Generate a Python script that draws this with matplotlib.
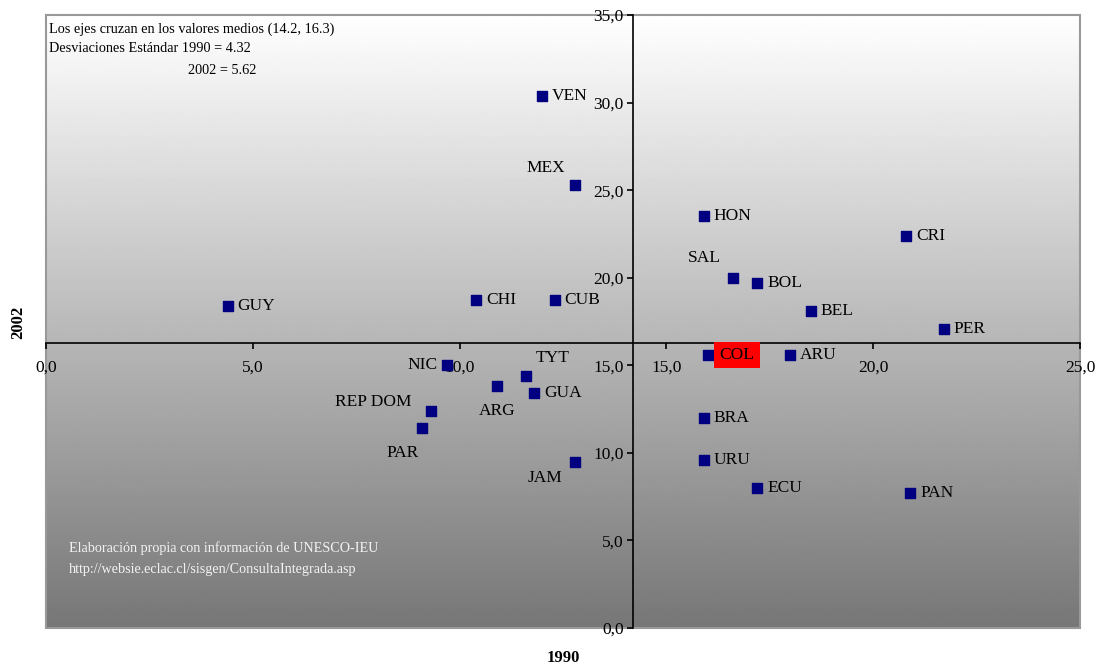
import matplotlib
matplotlib.use('Agg')
import matplotlib.pyplot as plt
import numpy as np
from matplotlib.ticker import FuncFormatter, MultipleLocator
from matplotlib.patches import Rectangle

plt.rcParams['font.family'] = ['Liberation Serif', 'DejaVu Serif']

# Data: 1990 (x) vs 2002 (y)
countries = ['VEN', 'MEX', 'HON', 'CRI', 'SAL', 'BOL', 'GUY', 'CHI', 'CUB', 'BEL',
             'PER', 'COL', 'ARU', 'NIC', 'TYT', 'ARG', 'GUA', 'REP DOM', 'PAR',
             'BRA', 'JAM', 'URU', 'ECU', 'PAN']
val_1990 = [12.0, 12.8, 15.9, 20.8, 16.6, 17.2, 4.4, 10.4, 12.3, 18.5,
            21.7, 16.0, 18.0, 9.7, 11.6, 10.9, 11.8, 9.3, 9.1,
            15.9, 12.8, 15.9, 17.2, 20.9]
val_2002 = [30.4, 25.3, 23.5, 22.4, 20.0, 19.7, 18.4, 18.7, 18.7, 18.1,
            17.1, 15.6, 15.6, 15.0, 14.4, 13.8, 13.4, 12.4, 11.4,
            12.0, 9.5, 9.6, 8.0, 7.7]
mean_x, mean_y = 14.2, 16.3

# label offsets in points (dx, dy, ha)
label_pos = {
    'MEX': (-21, 12, 'center'),
    'SAL': (-20, 14, 'center'),
    'NIC': (-7, 0, 'right'),
    'TYT': (19, 13, 'center'),
    'ARG': (0, -18, 'center'),
    'REP DOM': (-14, 6, 'right'),
    'PAR': (-14, -18, 'center'),
    'JAM': (-22, -12, 'center'),
}

fig = plt.figure(figsize=(11.02, 6.70), dpi=100)
ax = fig.add_axes([46 / 1102, 42 / 670, 1034 / 1102, 613 / 670])

# gradient background
grad = np.linspace(1.0, 0.0, 256).reshape(-1, 1)
ax.imshow(grad, extent=[0, 25, 0, 35], aspect='auto', cmap='gray',
          vmin=-0.87, vmax=1.0, zorder=0, origin='upper')
ax.set_xlim(0, 25)
ax.set_ylim(0, 35)

# outer frame
ax.add_patch(Rectangle((0, 0), 1, 1, transform=ax.transAxes, fill=False,
                       edgecolor='#999999', lw=1.5, zorder=1, clip_on=False))

ax.spines['left'].set_position(('data', mean_x))
ax.spines['bottom'].set_position(('data', mean_y))
ax.spines['right'].set_visible(False)
ax.spines['top'].set_visible(False)
for s in ['left', 'bottom']:
    ax.spines[s].set_color('black')
    ax.spines[s].set_linewidth(1.2)
    ax.spines[s].set_zorder(2)

ax.xaxis.set_major_locator(MultipleLocator(5))
ax.yaxis.set_major_locator(MultipleLocator(5))
fmt = FuncFormatter(lambda v, p: f"{v:.1f}".replace('.', ','))
ax.xaxis.set_major_formatter(fmt)
ax.yaxis.set_major_formatter(fmt)
ax.tick_params(axis='both', direction='out', length=4, width=1.2,
               labelsize=12.5, color='black')
ax.tick_params(axis='x', pad=8)
ax.tick_params(axis='y', pad=3)

ax.scatter(val_1990, val_2002, marker='s', s=50, color='#000080', zorder=3)

for name, x, y in zip(countries, val_1990, val_2002):
    dx, dy, ha = label_pos.get(name, (7, 0, 'left'))
    kw = {}
    if name == 'COL':
        kw['bbox'] = dict(boxstyle='square,pad=0.3', fc='#FF0000', ec='none')
        dx = 8.5
    ax.annotate(name, (x, y), xytext=(dx, dy), textcoords='offset points',
                ha=ha, va='center', fontsize=12.5, zorder=4, **kw)

ax.text(0.003, 0.977, 'Los ejes cruzan en los valores medios (14.2, 16.3)',
        transform=ax.transAxes, fontsize=10.3, va='center', ha='left')
ax.text(0.003, 0.946, 'Desviaciones Estándar 1990 = 4.32',
        transform=ax.transAxes, fontsize=10.3, va='center', ha='left')
ax.text(0.137, 0.909, '2002 = 5.62',
        transform=ax.transAxes, fontsize=10.3, va='center', ha='left')

ax.text(0.022, 0.130, 'Elaboración propia con información de UNESCO-IEU',
        transform=ax.transAxes, fontsize=10.2, va='center', ha='left', color='#F2F2F2')
ax.text(0.022, 0.096, 'http://websie.eclac.cl/sisgen/ConsultaIntegrada.asp',
        transform=ax.transAxes, fontsize=10.2, va='center', ha='left', color='#F2F2F2')

fig.text(563 / 1102, 1 - 658 / 670, '1990', fontsize=12, fontweight='bold',
         ha='center', va='center')
fig.text(18 / 1102, 1 - 322 / 670, '2002', fontsize=12, fontweight='bold',
         ha='center', va='center', rotation=90)

fig.savefig('out.png', dpi=100)
